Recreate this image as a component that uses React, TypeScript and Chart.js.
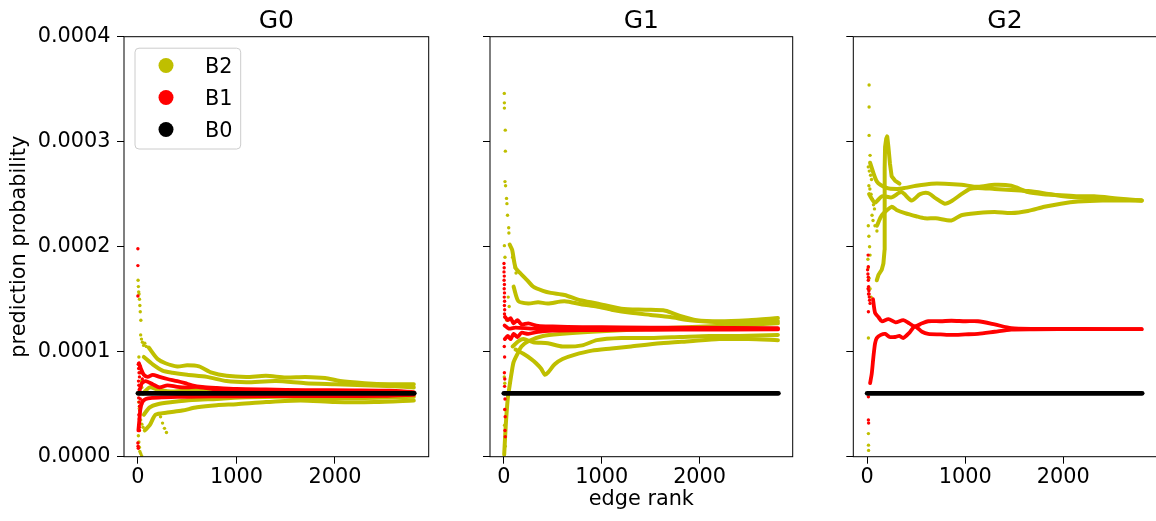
import React, { useEffect, useRef } from "react";
import { Chart, registerables } from "chart.js";

Chart.register(...registerables);

type P = [number, number];

// ---------- text / ticks ----------
const panelTitles = ["G0", "G1", "G2"];
const seriesNames = ["B2", "B1", "B0"];
const xTicks = [0, 1000, 2000];
const yTicks = [0, 0.0001, 0.0002, 0.0003, 0.0004];
const xRange = [-141, 2951];
const yRange = [0, 0.0004];
const yAxisTitle = "prediction probability";
const xAxisTitle = "edge rank";

// ---------- B0 (same in every panel) ----------
const b0Points: P[] = [[0, 6.04e-5], [1400, 6.04e-5], [2805, 6.04e-5]];

// ---------- G0 ----------
const g0B2Early: P[] = [
  [2, 1.68e-4], [5, 1.62e-4], [8, 1.57e-4], [12, 1.55e-4], [16, 1.5e-4], [20, 1.44e-4], [24, 1.38e-4],
  [30, 1.3e-4], [28, 1.16e-4], [36, 1.12e-4], [46, 1.09e-4], [58, 1.06e-4], [70, 1.08e-4], [85, 1.05e-4],
  [10, 0.95e-4], [15, 0.88e-4], [22, 0.8e-4], [30, 0.72e-4], [40, 0.66e-4], [8, 0.52e-4], [14, 0.46e-4],
  [20, 0.4e-4], [28, 0.35e-4], [40, 0.31e-4], [52, 0.28e-4], [5, 0.2e-4], [10, 0.14e-4], [15, 0.09e-4],
  [20, 0.05e-4], [28, 0.03e-4], [38, 0.01e-4], [230, 0.38e-4], [250, 0.32e-4], [270, 0.27e-4], [290, 0.23e-4],
];
const g0B2Run1: P[] = [
  [110, 1.04e-4], [200, 0.93e-4], [280, 0.89e-4], [400, 0.86e-4], [500, 0.87e-4], [620, 0.86e-4], [750, 0.8e-4],
  [900, 0.77e-4], [1100, 0.76e-4], [1300, 0.77e-4], [1500, 0.755e-4], [1700, 0.76e-4], [1900, 0.75e-4],
  [2050, 0.72e-4], [2300, 0.7e-4], [2550, 0.69e-4], [2800, 0.69e-4],
];
const g0B2Run2: P[] = [
  [60, 0.95e-4], [150, 0.88e-4], [250, 0.82e-4], [350, 0.8e-4], [500, 0.78e-4], [700, 0.76e-4], [900, 0.72e-4],
  [1100, 0.71e-4], [1400, 0.72e-4], [1700, 0.7e-4], [2000, 0.69e-4], [2300, 0.68e-4], [2600, 0.67e-4], [2800, 0.66e-4],
];
const g0B2Run3: P[] = [
  [50, 0.6e-4], [120, 0.66e-4], [200, 0.64e-4], [350, 0.62e-4], [600, 0.64e-4], [900, 0.63e-4], [1200, 0.61e-4],
  [1600, 0.6e-4], [2000, 0.59e-4], [2400, 0.59e-4], [2800, 0.6e-4],
];
const g0B2Run4: P[] = [
  [60, 0.4e-4], [120, 0.47e-4], [200, 0.5e-4], [350, 0.52e-4], [550, 0.54e-4], [800, 0.55e-4], [1100, 0.565e-4],
  [1500, 0.57e-4], [1900, 0.56e-4], [2300, 0.56e-4], [2800, 0.57e-4],
];
const g0B2Run5: P[] = [
  [70, 0.25e-4], [120, 0.3e-4], [180, 0.4e-4], [300, 0.42e-4], [450, 0.44e-4], [600, 0.47e-4], [800, 0.49e-4],
  [1000, 0.5e-4], [1300, 0.52e-4], [1650, 0.535e-4], [2000, 0.52e-4], [2400, 0.52e-4], [2800, 0.535e-4],
];
const g0B1Early: P[] = [
  [0, 1.98e-4], [0, 1.82e-4], [0, 1.53e-4], [4, 0.88e-4], [8, 0.84e-4], [12, 0.8e-4], [16, 0.76e-4], [6, 0.72e-4],
  [10, 0.68e-4], [14, 0.64e-4], [18, 0.6e-4], [8, 0.56e-4], [12, 0.52e-4], [16, 0.48e-4], [20, 0.44e-4],
  [10, 0.4e-4], [14, 0.36e-4], [18, 0.32e-4], [12, 0.28e-4], [16, 0.25e-4], [0, 0.13e-4], [2, 0.1e-4],
  [4, 0.08e-4], [25, 0.86e-4], [35, 0.8e-4], [45, 0.74e-4], [25, 0.55e-4], [35, 0.5e-4], [45, 0.53e-4],
];
const g0B1Run1: P[] = [
  [10, 0.89e-4], [30, 0.84e-4], [60, 0.78e-4], [100, 0.76e-4], [150, 0.78e-4], [220, 0.76e-4], [300, 0.74e-4],
  [400, 0.72e-4], [480, 0.7e-4], [550, 0.68e-4], [650, 0.665e-4], [800, 0.655e-4], [1000, 0.645e-4],
  [1300, 0.64e-4], [1700, 0.635e-4], [2200, 0.632e-4], [2550, 0.628e-4], [2800, 0.615e-4],
];
const g0B1Run2: P[] = [
  [15, 0.62e-4], [40, 0.7e-4], [80, 0.72e-4], [150, 0.69e-4], [220, 0.66e-4], [300, 0.68e-4], [400, 0.665e-4],
  [500, 0.66e-4], [600, 0.665e-4], [800, 0.64e-4], [1100, 0.635e-4], [1500, 0.62e-4], [2000, 0.615e-4], [2800, 0.608e-4],
];
const g0B1Run3: P[] = [
  [5, 0.25e-4], [15, 0.35e-4], [25, 0.45e-4], [45, 0.52e-4], [80, 0.55e-4], [150, 0.56e-4], [250, 0.565e-4],
  [400, 0.57e-4], [600, 0.572e-4], [900, 0.575e-4], [1300, 0.576e-4], [2000, 0.577e-4], [2500, 0.58e-4], [2800, 0.59e-4],
];

// ---------- G1 ----------
const g1B2Early: P[] = [
  [5, 3.46e-4], [6, 3.37e-4], [6, 3.32e-4], [15, 3.11e-4], [16, 2.91e-4], [12, 2.62e-4], [18, 2.58e-4],
  [28, 2.46e-4], [32, 2.41e-4], [38, 2.3e-4], [50, 2.18e-4], [52, 2.13e-4], [6, 2.01e-4], [12, 1.9e-4],
  [90, 1.9e-4], [115, 1.8e-4], [125, 1.75e-4], [45, 1.52e-4], [55, 1.43e-4], [30, 1.3e-4], [8, 0.3e-4],
  [12, 0.45e-4], [30, 0.6e-4], [5, 0.76e-4], [10, 0.7e-4], [14, 0.1e-4],
];
const g1B2Run1: P[] = [
  [60, 2.02e-4], [85, 1.97e-4], [120, 1.8e-4], [176, 1.74e-4], [240, 1.68e-4], [300, 1.62e-4], [400, 1.58e-4],
  [480, 1.56e-4], [620, 1.54e-4], [780, 1.49e-4], [950, 1.46e-4], [1200, 1.41e-4], [1450, 1.4e-4], [1650, 1.39e-4],
  [1800, 1.34e-4], [1970, 1.3e-4], [2200, 1.29e-4], [2500, 1.3e-4], [2800, 1.32e-4],
];
const g1B2Run2: P[] = [
  [100, 1.62e-4], [150, 1.48e-4], [250, 1.46e-4], [350, 1.47e-4], [450, 1.46e-4], [620, 1.48e-4], [800, 1.45e-4],
  [950, 1.43e-4], [1100, 1.4e-4], [1300, 1.37e-4], [1500, 1.35e-4], [1700, 1.33e-4], [1900, 1.3e-4],
  [2200, 1.28e-4], [2500, 1.27e-4], [2800, 1.29e-4],
];
const g1B2Run3: P[] = [
  [90, 1.05e-4], [150, 1.1e-4], [200, 1.12e-4], [300, 1.09e-4], [450, 1.08e-4], [600, 1.05e-4], [800, 1.06e-4],
  [950, 1.11e-4], [1200, 1.13e-4], [1500, 1.13e-4], [1800, 1.14e-4], [2100, 1.15e-4], [2400, 1.15e-4], [2800, 1.16e-4],
];
const g1B2Run4: P[] = [
  [120, 1.02e-4], [200, 0.98e-4], [280, 0.93e-4], [330, 0.89e-4], [380, 0.84e-4], [420, 0.78e-4], [450, 0.8e-4],
  [520, 0.88e-4], [600, 0.93e-4], [720, 0.97e-4], [900, 1.01e-4], [1100, 1.03e-4], [1300, 1.05e-4],
  [1600, 1.08e-4], [1900, 1.1e-4], [2200, 1.12e-4], [2500, 1.12e-4], [2800, 1.11e-4],
];
const g1B2Run5: P[] = [
  [4, 0.02e-4], [20, 0.3e-4], [40, 0.55e-4], [60, 0.68e-4], [80, 0.8e-4], [100, 0.9e-4], [140, 0.98e-4],
  [180, 1.05e-4], [250, 1.1e-4], [400, 1.15e-4], [600, 1.17e-4], [900, 1.19e-4], [1300, 1.21e-4],
  [1800, 1.23e-4], [2300, 1.25e-4], [2800, 1.27e-4],
];
const g1B1Early: P[] = [
  [2, 1.84e-4], [4, 1.8e-4], [2, 1.76e-4], [5, 1.72e-4], [3, 1.68e-4], [6, 1.64e-4], [4, 1.6e-4], [7, 1.56e-4],
  [5, 1.52e-4], [8, 1.48e-4], [6, 1.44e-4], [9, 1.4e-4], [7, 1.36e-4], [10, 1.33e-4], [5, 1.05e-4],
  [8, 0.95e-4], [6, 0.8e-4], [10, 0.74e-4], [8, 0.67e-4], [12, 0.55e-4], [10, 0.45e-4], [14, 0.38e-4],
  [12, 0.25e-4], [15, 0.19e-4],
];
const g1B1Run1: P[] = [
  [15, 1.33e-4], [40, 1.3e-4], [70, 1.32e-4], [100, 1.27e-4], [140, 1.3e-4], [180, 1.26e-4], [250, 1.27e-4],
  [350, 1.245e-4], [500, 1.24e-4], [800, 1.235e-4], [1200, 1.232e-4], [1800, 1.228e-4], [2800, 1.225e-4],
];
const g1B1Run2: P[] = [
  [10, 1.12e-4], [40, 1.15e-4], [70, 1.12e-4], [100, 1.17e-4], [140, 1.14e-4], [180, 1.18e-4], [250, 1.17e-4],
  [350, 1.19e-4], [500, 1.2e-4], [800, 1.205e-4], [1200, 1.208e-4], [1800, 1.21e-4], [2800, 1.212e-4],
];
const g1B1Run3: P[] = [
  [8, 1.25e-4], [50, 1.22e-4], [120, 1.23e-4], [300, 1.22e-4], [1000, 1.22e-4], [2800, 1.218e-4],
];

// ---------- G2 ----------
const g2B2Early: P[] = [
  [20, 3.54e-4], [20, 3.33e-4], [20, 3.06e-4], [30, 2.87e-4], [12, 2.76e-4], [22, 2.72e-4], [35, 2.68e-4],
  [45, 2.64e-4], [18, 2.58e-4], [28, 2.55e-4], [40, 2.5e-4], [55, 2.45e-4], [65, 2.4e-4], [75, 2.36e-4],
  [50, 2.3e-4], [60, 2.25e-4], [80, 2.2e-4], [100, 2.15e-4], [12, 2.2e-4], [18, 2.1e-4], [25, 2.0e-4],
  [30, 1.92e-4], [8, 1.88e-4], [12, 1.8e-4], [20, 1.7e-4], [30, 1.6e-4], [40, 1.52e-4], [13, 1.13e-4],
  [13, 0.22e-4], [14, 0.11e-4], [15, 0.06e-4],
];
const g2B2RunA: P[] = [
  [30, 2.8e-4], [100, 2.62e-4], [200, 2.56e-4], [300, 2.55e-4], [386, 2.56e-4], [500, 2.58e-4], [656, 2.6e-4],
  [792, 2.6e-4], [961, 2.59e-4], [1130, 2.57e-4], [1300, 2.59e-4], [1470, 2.58e-4], [1640, 2.52e-4],
  [1800, 2.5e-4], [1976, 2.49e-4], [2150, 2.48e-4], [2315, 2.48e-4], [2550, 2.46e-4], [2800, 2.44e-4],
];
const g2B2RunB: P[] = [
  [20, 2.5e-4], [80, 2.42e-4], [150, 2.48e-4], [250, 2.47e-4], [350, 2.52e-4], [453, 2.44e-4], [540, 2.5e-4],
  [623, 2.51e-4], [700, 2.46e-4], [792, 2.41e-4], [870, 2.44e-4], [961, 2.5e-4], [1050, 2.55e-4],
  [1130, 2.56e-4], [1300, 2.55e-4], [1470, 2.54e-4], [1640, 2.53e-4], [1800, 2.51e-4], [2000, 2.48e-4],
  [2300, 2.46e-4], [2550, 2.45e-4], [2800, 2.44e-4],
];
const g2B2RunC: P[] = [
  [100, 2.2e-4], [150, 2.3e-4], [250, 2.38e-4], [300, 2.35e-4], [386, 2.32e-4], [500, 2.29e-4], [589, 2.27e-4],
  [700, 2.27e-4], [860, 2.25e-4], [961, 2.3e-4], [1130, 2.32e-4], [1300, 2.33e-4], [1470, 2.32e-4],
  [1640, 2.34e-4], [1807, 2.38e-4], [1976, 2.41e-4], [2150, 2.43e-4], [2400, 2.44e-4], [2800, 2.44e-4],
];
const g2B2RunD: P[] = [
  [98, 1.68e-4], [115, 1.73e-4], [149, 1.78e-4], [166, 1.84e-4], [178, 1.97e-4], [181, 2.25e-4], [178, 2.5e-4],
  [178, 2.75e-4], [183, 2.95e-4], [195, 3.03e-4], [205, 3.05e-4], [217, 2.95e-4], [233, 2.79e-4],
  [250, 2.67e-4], [284, 2.63e-4], [330, 2.6e-4],
];
const g2B1Early: P[] = [
  [10, 1.92e-4], [12, 1.81e-4], [12, 1.71e-4], [5, 1.78e-4], [8, 1.74e-4], [12, 1.68e-4], [15, 1.62e-4],
  [18, 1.58e-4], [20, 1.55e-4], [22, 1.52e-4], [25, 1.49e-4], [10, 1.6e-4], [14, 1.55e-4], [30, 1.46e-4],
  [13, 1.38e-4], [13, 0.57e-4], [13, 0.35e-4], [15, 0.32e-4],
];
const g2B1RunU: P[] = [
  [60, 1.5e-4], [81, 1.37e-4], [115, 1.33e-4], [150, 1.29e-4], [217, 1.31e-4], [290, 1.28e-4], [369, 1.3e-4],
  [430, 1.27e-4], [487, 1.24e-4], [560, 1.27e-4], [623, 1.29e-4], [750, 1.29e-4], [860, 1.295e-4],
  [1000, 1.29e-4], [1130, 1.29e-4], [1300, 1.26e-4], [1470, 1.225e-4], [1700, 1.218e-4], [2200, 1.216e-4], [2800, 1.215e-4],
];
const g2B1RunL: P[] = [
  [30, 0.7e-4], [47, 0.79e-4], [64, 0.95e-4], [81, 1.08e-4], [98, 1.13e-4], [140, 1.16e-4], [183, 1.17e-4],
  [230, 1.14e-4], [284, 1.14e-4], [330, 1.15e-4], [369, 1.13e-4], [430, 1.18e-4], [487, 1.24e-4],
  [560, 1.19e-4], [623, 1.17e-4], [750, 1.165e-4], [860, 1.16e-4], [1000, 1.165e-4], [1130, 1.17e-4],
  [1300, 1.19e-4], [1470, 1.21e-4], [1700, 1.213e-4], [2200, 1.215e-4], [2800, 1.215e-4],
];

const panelData = [
  { b2Early: g0B2Early, b2Runs: [g0B2Run1, g0B2Run2, g0B2Run3, g0B2Run4, g0B2Run5], b1Early: g0B1Early, b1Runs: [g0B1Run1, g0B1Run2, g0B1Run3] },
  { b2Early: g1B2Early, b2Runs: [g1B2Run1, g1B2Run2, g1B2Run3, g1B2Run4, g1B2Run5], b1Early: g1B1Early, b1Runs: [g1B1Run1, g1B1Run2, g1B1Run3] },
  { b2Early: g2B2Early, b2Runs: [g2B2RunA, g2B2RunB, g2B2RunC, g2B2RunD], b1Early: g2B1Early, b1Runs: [g2B1RunU, g2B1RunL] },
];

// ---------- styling / layout ----------
const COLORS = { B2: "#bfbf00", B1: "#ff0000", B0: "#000000" };
const FONT = "DejaVu Sans";
const CANVAS_W = 1160;
const CANVAS_H = 521;
const AREA_TOP = 36.7;
const AREA_BOTTOM = 456.7;
const layouts = [
  { left: 124, right: 428.7, yAxisW: 124, yLabels: true, yTitle: true, xTitle: false, legend: true },
  { left: 490, right: 792.7, yAxisW: 20, yLabels: false, yTitle: false, xTitle: true, legend: false },
  { left: 853.3, right: 1156.5, yAxisW: 20, yLabels: false, yTitle: false, xTitle: false, legend: false },
];

const toXY = (pts: P[]) => pts.map(([x, y]) => ({ x, y }));

const lineDs = (pts: P[], color: string, width: number, tension = 0.25) => ({
  data: toXY(pts),
  showLine: true,
  borderColor: color,
  backgroundColor: color,
  borderWidth: width,
  pointRadius: 0,
  pointHoverRadius: 0,
  tension,
  borderCapStyle: "round",
  borderJoinStyle: "round",
  fill: false,
});

const dotDs = (pts: P[], color: string) => ({
  data: toXY(pts),
  showLine: false,
  pointRadius: 1.7,
  pointHoverRadius: 1.7,
  pointBorderWidth: 0,
  pointBackgroundColor: color,
  backgroundColor: color,
  borderColor: color,
});

const framePlugin = {
  id: "frame",
  afterDraw(chart: any, _args: any, opts: any) {
    const { ctx, chartArea: a } = chart;
    ctx.save();
    ctx.strokeStyle = "#000";
    ctx.lineWidth = 1;
    ctx.strokeRect(a.left, a.top, a.right - a.left, a.bottom - a.top);
    ctx.fillStyle = "#000";
    ctx.font = `25px "${FONT}"`;
    ctx.textAlign = "center";
    ctx.textBaseline = "alphabetic";
    ctx.fillText(opts.title, (a.left + a.right) / 2, a.top - 8.4);
    if (opts.legend) {
      const bx = a.left + 11, by = a.top + 11.5, bw = 105.7, bh = 100.8;
      ctx.beginPath();
      (ctx as any).roundRect(bx, by, bw, bh, 4);
      ctx.fillStyle = "rgba(255,255,255,0.8)";
      ctx.fill();
      ctx.strokeStyle = "#cccccc";
      ctx.lineWidth = 1;
      ctx.stroke();
      const cols = [COLORS.B2, COLORS.B1, COLORS.B0];
      seriesNames.forEach((name, i) => {
        const cy = by + 17.3 + i * 32;
        ctx.beginPath();
        ctx.arc(bx + 31, cy, 7.5, 0, Math.PI * 2);
        ctx.fillStyle = cols[i];
        ctx.fill();
        ctx.fillStyle = "#000";
        ctx.font = `20.8px "${FONT}"`;
        ctx.textAlign = "left";
        ctx.textBaseline = "alphabetic";
        ctx.fillText(name, bx + 70, cy + 7.6);
      });
    }
    ctx.restore();
  },
};

function buildConfig(i: number): any {
  const L = layouts[i];
  const d = panelData[i];
  const datasets: any[] = [];
  datasets.push(lineDs(b0Points, COLORS.B0, 4.7, 0));
  d.b1Runs.forEach((r) => datasets.push(lineDs(r, COLORS.B1, 3.8)));
  datasets.push(dotDs(d.b1Early, COLORS.B1));
  d.b2Runs.forEach((r, k) => datasets.push(lineDs(r, COLORS.B2, 4, i === 2 && k === 3 ? 0 : 0.25)));
  datasets.push(dotDs(d.b2Early, COLORS.B2));

  return {
    type: "scatter",
    data: { datasets },
    plugins: [framePlugin],
    options: {
      responsive: false,
      animation: false,
      events: [],
      layout: {
        padding: { left: L.left - L.yAxisW, right: CANVAS_W - L.right, top: AREA_TOP, bottom: 0 },
      },
      plugins: {
        legend: { display: false },
        title: { display: false },
        tooltip: { enabled: false },
        frame: { title: panelTitles[i], legend: L.legend },
      },
      scales: {
        x: {
          type: "linear",
          min: xRange[0],
          max: xRange[1],
          afterBuildTicks: (s: any) => { s.ticks = xTicks.map((v) => ({ value: v })); },
          afterFit: (s: any) => { s.height = CANVAS_H - AREA_BOTTOM; },
          ticks: {
            color: "#000",
            font: { family: FONT, size: 20.8 },
            padding: 1,
            maxRotation: 0,
            autoSkip: false,
            callback: (v: any) => String(v),
          },
          grid: { display: true, drawOnChartArea: false, drawTicks: true, tickLength: 7, color: "#000", lineWidth: 1 },
          border: { display: false },
          title: {
            display: L.xTitle,
            text: xAxisTitle,
            color: "#000",
            font: { family: FONT, size: 20.8 },
            padding: { top: 0, bottom: 8.5 },
          },
        },
        y: {
          type: "linear",
          min: yRange[0],
          max: yRange[1],
          afterBuildTicks: (s: any) => { s.ticks = yTicks.map((v) => ({ value: v })); },
          afterFit: (s: any) => { s.width = L.yAxisW; },
          ticks: {
            color: "#000",
            font: { family: FONT, size: 20.8 },
            padding: 6.5,
            autoSkip: false,
            callback: (v: any) => (L.yLabels ? Number(v).toFixed(4) : ""),
          },
          grid: { display: true, drawOnChartArea: false, drawTicks: true, tickLength: 7, color: "#000", lineWidth: 1 },
          border: { display: false },
          title: {
            display: L.yTitle,
            text: yAxisTitle,
            color: "#000",
            font: { family: FONT, size: 20.8 },
            padding: { top: 7.5, bottom: 0 },
          },
        },
      },
    },
  };
}

export default function App() {
  const refs = [useRef<HTMLCanvasElement>(null), useRef<HTMLCanvasElement>(null), useRef<HTMLCanvasElement>(null)];
  useEffect(() => {
    const charts = refs.map((r, i) => new Chart(r.current as HTMLCanvasElement, buildConfig(i)));
    return () => charts.forEach((c) => c.destroy());
  }, []);
  return (
    <div style={{ position: "absolute", left: 0, top: 0, width: 1156, height: 521, overflow: "hidden", background: "#fff" }}>
      {refs.map((r, i) => (
        <canvas
          key={i}
          ref={r}
          width={CANVAS_W}
          height={CANVAS_H}
          style={{ position: "absolute", left: 0, top: 0, width: CANVAS_W, height: CANVAS_H }}
        />
      ))}
    </div>
  );
}
